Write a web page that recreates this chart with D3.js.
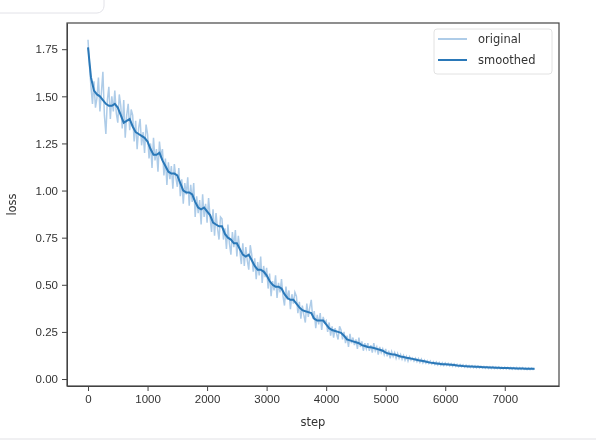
<!DOCTYPE html>
<meta charset="utf-8">
<style>
    body {
        margin: 0;
        background: #fff;
    }
    svg {
        display: block;
        font-family: "DejaVu Sans", sans-serif;
    }
    .axis text {
        font-size: 11.5px;
        fill: #333;
    }
    .axis path, .axis line {
        stroke: #444;
    }
</style>
<body>
<div id="main"></div>
<script src="https://cdn.jsdelivr.net/npm/d3@7"></script>
<script>
    // raw loss every 25 steps, smoothed every 50 steps
    var rawSteps = d3.range(0, 7501, 25);
    var smoothSteps = d3.range(0, 7501, 50);

    var original = [
        1.80, 1.66, 1.55, 1.46, 1.58, 1.44, 1.49, 1.60, 1.42, 1.52,
        1.63, 1.40, 1.30, 1.48, 1.55, 1.38, 1.50, 1.42, 1.53, 1.41,
        1.36, 1.51, 1.45, 1.33, 1.48, 1.28, 1.40, 1.46, 1.32, 1.43,
        1.40, 1.26, 1.37, 1.22, 1.33, 1.38, 1.24, 1.31, 1.20, 1.35,
        1.30, 1.17, 1.25, 1.12, 1.28, 1.16, 1.22, 1.10, 1.26, 1.18,
        1.22, 1.08, 1.17, 1.03, 1.15, 1.06, 1.13, 1.01, 1.14, 1.07,
        1.02, 1.12, 0.97, 1.06, 0.93, 1.04, 0.98, 1.07, 0.92, 1.03,
        0.94, 1.04, 0.86, 0.97, 0.88, 0.95, 0.82, 0.98, 0.86, 0.93,
        0.83, 0.96, 0.86, 0.78, 0.90, 0.76, 0.88, 0.80, 0.74, 0.86,
        0.85, 0.74, 0.80, 0.69, 0.82, 0.72, 0.66, 0.78, 0.70, 0.79,
        0.65, 0.76, 0.68, 0.61, 0.72, 0.60, 0.70, 0.63, 0.58, 0.71,
        0.66, 0.57, 0.64, 0.53, 0.62, 0.55, 0.65, 0.51, 0.60, 0.54,
        0.59, 0.48, 0.56, 0.44, 0.52, 0.47, 0.55, 0.43, 0.51, 0.46,
        0.53, 0.44, 0.39, 0.49, 0.42, 0.47, 0.37, 0.45, 0.40, 0.46,
        0.44, 0.35, 0.41, 0.32, 0.39, 0.34, 0.30, 0.40, 0.33, 0.38,
        0.42, 0.32, 0.36, 0.27, 0.34, 0.29, 0.35, 0.26, 0.33, 0.30,
        0.31, 0.25, 0.30, 0.23, 0.28, 0.22, 0.27, 0.24, 0.21, 0.28,
        0.26, 0.21, 0.25, 0.19, 0.23, 0.17, 0.24, 0.19, 0.22, 0.18,
        0.21, 0.16, 0.22, 0.17, 0.20, 0.15, 0.19, 0.16, 0.19, 0.15,
        0.18, 0.14, 0.19, 0.15, 0.17, 0.13, 0.17, 0.14, 0.16, 0.13,
        0.16, 0.12, 0.15, 0.11, 0.145, 0.12, 0.14, 0.11, 0.135, 0.11,
        0.13, 0.105, 0.125, 0.10, 0.12, 0.095, 0.118, 0.10, 0.112, 0.095,
        0.11, 0.092, 0.108, 0.088, 0.105, 0.085, 0.10, 0.084, 0.097, 0.082,
        0.095, 0.08, 0.092, 0.077, 0.09, 0.075, 0.088, 0.073, 0.086, 0.072,
        0.085, 0.072, 0.083, 0.07, 0.082, 0.068, 0.08, 0.067, 0.078, 0.066,
        0.077, 0.065, 0.075, 0.063, 0.074, 0.062, 0.072, 0.061, 0.071, 0.06,
        0.07, 0.059, 0.069, 0.058, 0.068, 0.058, 0.067, 0.057, 0.066, 0.056,
        0.066, 0.056, 0.065, 0.055, 0.064, 0.055, 0.064, 0.054, 0.063, 0.054,
        0.063, 0.053, 0.062, 0.053, 0.062, 0.052, 0.061, 0.052, 0.061, 0.051,
        0.06, 0.051, 0.06, 0.051, 0.059, 0.05, 0.059, 0.05, 0.058, 0.05,
        0.055
    ];

    var smoothed = [
        1.76, 1.60, 1.53, 1.51, 1.50, 1.48, 1.46, 1.45, 1.45, 1.46,
        1.44, 1.40, 1.36, 1.37, 1.38, 1.34, 1.31, 1.30, 1.29, 1.28,
        1.26, 1.22, 1.19, 1.19, 1.20, 1.16, 1.13, 1.10, 1.09, 1.09,
        1.08, 1.04, 1.00, 0.99, 0.99, 0.98, 0.94, 0.91, 0.90, 0.91,
        0.89, 0.87, 0.83, 0.82, 0.81, 0.81, 0.77, 0.75, 0.74, 0.72,
        0.72, 0.69, 0.66, 0.65, 0.66, 0.63, 0.60, 0.58, 0.58, 0.57,
        0.55, 0.52, 0.50, 0.49, 0.49, 0.48, 0.45, 0.43, 0.42, 0.42,
        0.40, 0.38, 0.365, 0.36, 0.355, 0.35, 0.32, 0.31, 0.31, 0.31,
        0.29, 0.27, 0.26, 0.255, 0.25, 0.245, 0.23, 0.21, 0.205, 0.20,
        0.195, 0.19, 0.18, 0.175, 0.17, 0.168, 0.165, 0.16, 0.155, 0.15,
        0.14, 0.135, 0.132, 0.13, 0.125, 0.12, 0.117, 0.113, 0.11, 0.107,
        0.104, 0.10, 0.097, 0.094, 0.09, 0.087, 0.085, 0.083, 0.081, 0.079,
        0.078, 0.077, 0.076, 0.074, 0.072, 0.071, 0.069, 0.068, 0.067, 0.066,
        0.065, 0.065, 0.064, 0.063, 0.062, 0.061, 0.061, 0.060, 0.060, 0.059,
        0.058, 0.058, 0.057, 0.057, 0.056, 0.056, 0.056, 0.055, 0.055, 0.055,
        0.055
    ];

    var xTicks = [0, 1000, 2000, 3000, 4000, 5000, 6000, 7000];
    var yTicks = [0, 0.25, 0.5, 0.75, 1.0, 1.25, 1.5, 1.75];
    var seriesNames = ["original", "smoothed"];
    var seriesColors = ["#aecce8", "#2a78b8"];

    var W = 596, H = 440;
    var margin = {top: 23, right: 37, bottom: 54, left: 67},
        width = W - margin.left - margin.right,
        height = H - margin.top - margin.bottom;

    var svg = d3.select("#main").append("svg")
        .attr("width", W)
        .attr("height", H);

    // the reference is a soft, upscaled screenshot
    svg.append("defs").append("filter")
        .attr("id", "soft")
        .append("feGaussianBlur")
        .attr("stdDeviation", 0.5);

    var root = svg.append("g").attr("filter", "url(#soft)");

    // screenshot frame bits
    root.append("rect")
        .attr("x", -10).attr("y", -10)
        .attr("width", 114).attr("height", 23)
        .attr("rx", 7)
        .attr("fill", "none")
        .attr("stroke", "#e2e2e8");
    root.append("rect")
        .attr("x", 0).attr("y", 438)
        .attr("width", W).attr("height", 2)
        .attr("fill", "#f0f0f2");

    var g = root.append("g")
        .attr("transform", "translate(" + margin.left + "," + margin.top + ")");

    var x = d3.scaleLinear()
        .domain([-353, 7911])
        .range([0, width]);

    var y = d3.scaleLinear()
        .domain([-0.037, 1.889])
        .range([height, 0]);

    var line = function(xs, vals) {
        return d3.line()
            .x(function(d, i) { return x(xs[i]); })
            .y(function(d) { return y(d); })(vals);
    };

    g.append("path")
        .attr("d", line(rawSteps, original))
        .attr("fill", "none")
        .attr("stroke", seriesColors[0])
        .attr("stroke-width", 1.5);

    g.append("path")
        .attr("d", line(smoothSteps, smoothed))
        .attr("fill", "none")
        .attr("stroke", seriesColors[1])
        .attr("stroke-width", 2);

    var xAxis = d3.axisBottom(x)
        .tickValues(xTicks)
        .tickFormat(d3.format("d"))
        .tickSizeInner(5).tickSizeOuter(0).tickPadding(4);

    var yAxis = d3.axisLeft(y)
        .tickValues(yTicks)
        .tickFormat(d3.format(".2f"))
        .tickSizeInner(5).tickSizeOuter(0).tickPadding(4);

    g.append("g")
        .attr("class", "x axis")
        .attr("transform", "translate(0," + height + ")")
        .call(xAxis);

    g.append("g")
        .attr("class", "y axis")
        .call(yAxis);

    // frame
    g.append("rect")
        .attr("width", width)
        .attr("height", height)
        .attr("fill", "none")
        .attr("stroke", "#444")
        .attr("stroke-width", 1.2);

    g.append("text")
        .attr("x", width / 2)
        .attr("y", height + 40)
        .attr("text-anchor", "middle")
        .style("font-size", "11.5px")
        .style("fill", "#333")
        .text("step");

    g.append("text")
        .attr("transform", "rotate(-90)")
        .attr("x", -height / 2)
        .attr("y", -51)
        .attr("text-anchor", "middle")
        .style("font-size", "11.5px")
        .style("fill", "#333")
        .text("loss");

    // legend
    var lg = g.append("g")
        .attr("transform", "translate(" + (width - 125) + ",6)");
    lg.append("rect")
        .attr("width", 118).attr("height", 45)
        .attr("rx", 3)
        .attr("fill", "#fff")
        .attr("stroke", "#e2e2e2");
    seriesNames.forEach(function(name, i) {
        var yy = 10 + i * 21;
        lg.append("line")
            .attr("x1", 4).attr("x2", 33)
            .attr("y1", yy).attr("y2", yy)
            .attr("stroke", seriesColors[i])
            .attr("stroke-width", 2);
        lg.append("text")
            .attr("x", 44).attr("y", yy + 4)
            .style("font-size", "11.5px")
            .style("fill", "#333")
            .text(name);
    });
</script>
</body>
